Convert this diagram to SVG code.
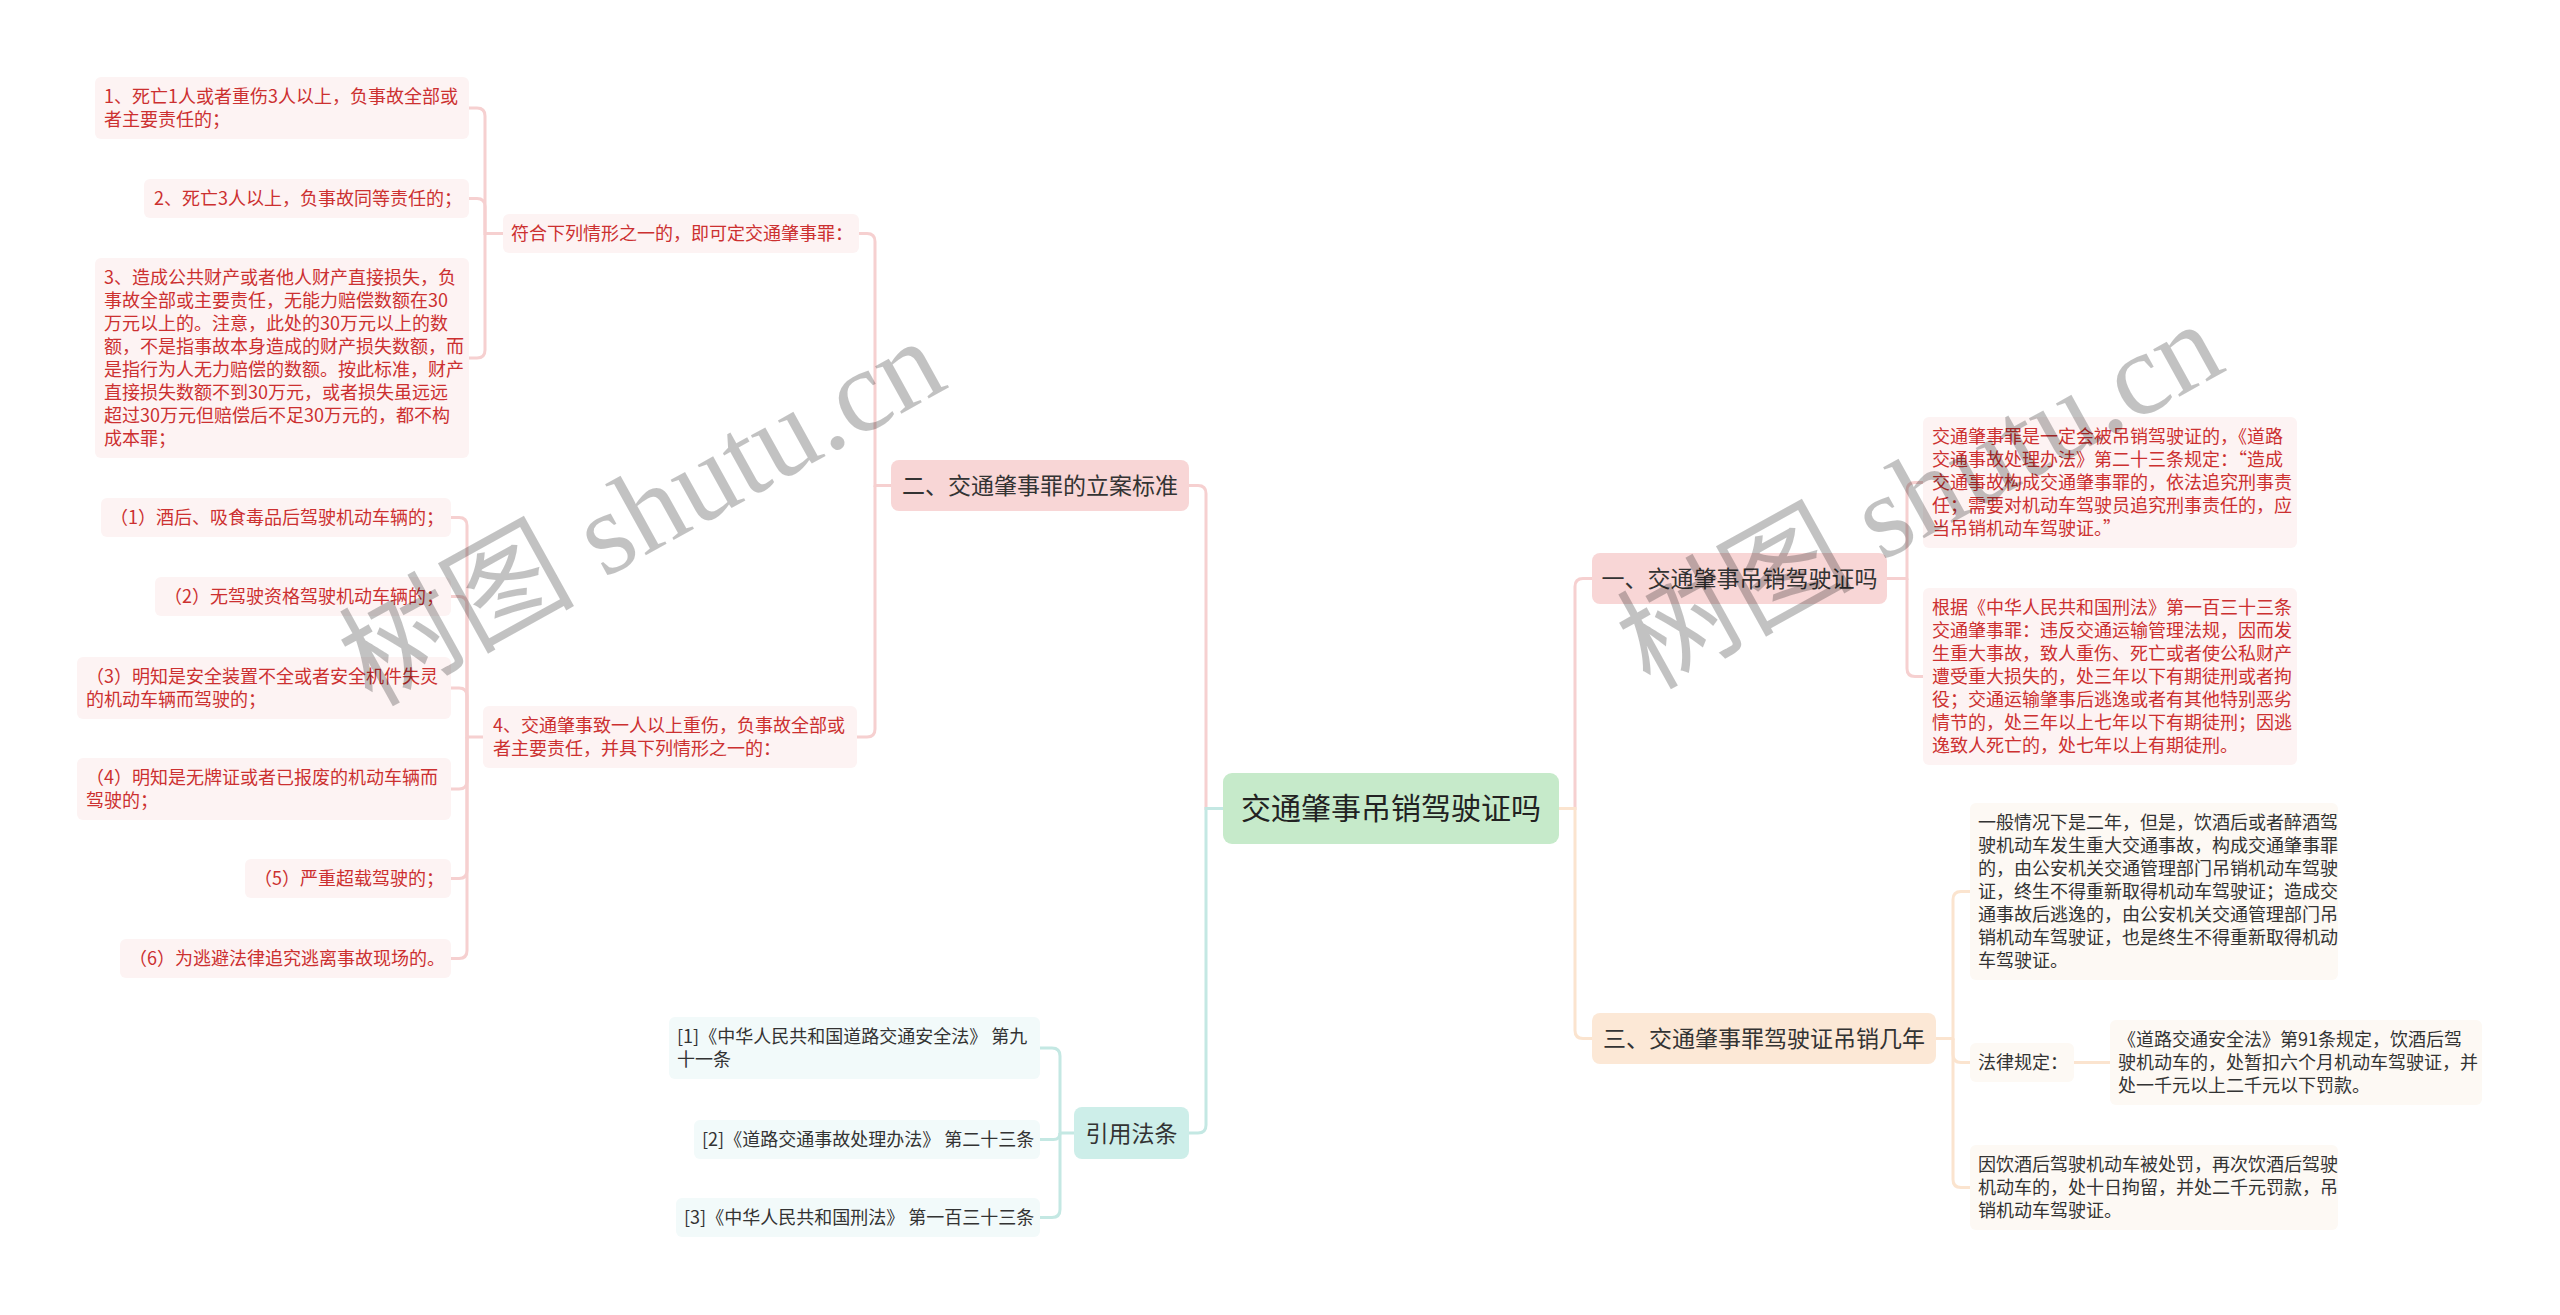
<svg xmlns="http://www.w3.org/2000/svg" width="2560" height="1315" viewBox="0 0 2560 1315">
<style>
text{font-family:"Noto Sans CJK SC","Liberation Sans",sans-serif}
.lt{font-size:18px;fill:#cc3030}
.dt{font-size:18px;fill:#333}
.l1{font-size:23px;fill:#333;text-anchor:middle}
.rt{font-size:30px;fill:#222;text-anchor:middle}
.bp{fill:#fdf3f3}
.bc{fill:#fdf9f4}
.bt{fill:#f2fafa}
.cp{fill:none;stroke:#f6d0d0;stroke-width:3}
.ct{fill:none;stroke:#c4e8e3;stroke-width:3}
.cc{fill:none;stroke:#fbe4cf;stroke-width:3}
.wm{font-family:"Liberation Serif","Noto Sans CJK SC",serif;font-size:118px;fill:#000;fill-opacity:0.24;text-anchor:middle}
</style>
<rect width="2560" height="1315" fill="#fff"/>
<g id="connectors">
<path class="cp" d="M1223,808.5 H1206 V493.5 Q1206,485.5 1198,485.5 H1189"/>
<path class="ct" d="M1223,808.5 H1206 V1125 Q1206,1133 1198,1133 H1189"/>
<path class="cp" d="M1559,808.5 H1575 V586.5 Q1575,578.5 1583,578.5 H1592"/>
<path class="cc" d="M1559,808.5 H1575 V1030.5 Q1575,1038.5 1583,1038.5 H1592"/>
<path class="cp" d="M891,485.5 H875 V241.5 Q875,233.5 867,233.5 H859"/>
<path class="cp" d="M875,485.5 V729 Q875,737 867,737 H857"/>
<path class="cp" d="M503,233.5 H485 V116 Q485,108 477,108 H469"/>
<path class="cp" d="M485,233.5 V206.5 Q485,198.5 477,198.5 H469"/>
<path class="cp" d="M485,233.5 V350 Q485,358 477,358 H469"/>
<path class="cp" d="M483,737 H467 V525.5 Q467,517.5 459,517.5 H451"/>
<path class="cp" d="M467,737 V604.5 Q467,596.5 459,596.5 H451"/>
<path class="cp" d="M467,737 V696 Q467,688 459,688 H451"/>
<path class="cp" d="M467,737 V781 Q467,789 459,789 H451"/>
<path class="cp" d="M467,737 V870.5 Q467,878.5 459,878.5 H451"/>
<path class="cp" d="M467,737 V950.5 Q467,958.5 459,958.5 H451"/>
<path class="ct" d="M1074,1133 H1060 V1056 Q1060,1048 1052,1048 H1040"/>
<path class="ct" d="M1060,1133 Q1060,1139.5 1053.5,1139.5 H1040"/>
<path class="ct" d="M1060,1133 V1209.5 Q1060,1217.5 1052,1217.5 H1040"/>
<path class="cp" d="M1887,578.5 H1907 V490.5 Q1907,482.5 1915,482.5 H1923"/>
<path class="cp" d="M1907,578.5 V668.5 Q1907,676.5 1915,676.5 H1923"/>
<path class="cc" d="M1936,1038.5 H1953 V899.5 Q1953,891.5 1961,891.5 H1970"/>
<path class="cc" d="M1953,1038.5 V1054.5 Q1953,1062.5 1961,1062.5 H1970"/>
<path class="cc" d="M1953,1038.5 V1179.5 Q1953,1187.5 1961,1187.5 H1970"/>
<path class="cc" d="M2074,1062.5 H2110"/>
</g>
<g id="root"><rect x="1223" y="773" width="336" height="71" rx="9" fill="#c6eaca"/><text class="rt" x="1391" y="819">交通肇事吊销驾驶证吗</text></g>
<g id="n2"><rect x="891" y="460" width="298" height="51" rx="8" fill="#f8d6d6"/><text class="l1" x="1040" y="494">二、交通肇事罪的立案标准</text></g>
<g id="n2a"><rect class="bp" x="503" y="214" width="356" height="39" rx="6"/><text class="lt" x="511" y="240">符合下列情形之一的，即可定交通肇事罪：</text></g>
<g id="n2a1"><rect class="bp" x="95" y="77" width="374" height="62" rx="6"/><text class="lt"><tspan x="104" y="103">1、死亡1人或者重伤3人以上，负事故全部或</tspan><tspan x="104" y="126">者主要责任的；</tspan></text></g>
<g id="n2a2"><rect class="bp" x="144" y="179" width="325" height="39" rx="6"/><text class="lt" x="154" y="205">2、死亡3人以上，负事故同等责任的；</text></g>
<g id="n2a3"><rect class="bp" x="95" y="258" width="374" height="200" rx="6"/><text class="lt"><tspan x="104" y="284">3、造成公共财产或者他人财产直接损失，负</tspan><tspan x="104" y="307">事故全部或主要责任，无能力赔偿数额在30</tspan><tspan x="104" y="330">万元以上的。注意，此处的30万元以上的数</tspan><tspan x="104" y="353">额，不是指事故本身造成的财产损失数额，而</tspan><tspan x="104" y="376">是指行为人无力赔偿的数额。按此标准，财产</tspan><tspan x="104" y="399">直接损失数额不到30万元，或者损失虽远远</tspan><tspan x="104" y="422">超过30万元但赔偿后不足30万元的，都不构</tspan><tspan x="104" y="445">成本罪；</tspan></text></g>
<g id="n2b"><rect class="bp" x="483" y="706" width="374" height="62" rx="6"/><text class="lt"><tspan x="493" y="732">4、交通肇事致一人以上重伤，负事故全部或</tspan><tspan x="493" y="755">者主要责任，并具下列情形之一的：</tspan></text></g>
<g id="n2b1"><rect class="bp" x="101" y="498" width="350" height="39" rx="6"/><text class="lt" x="110" y="524">（1）酒后、吸食毒品后驾驶机动车辆的；</text></g>
<g id="n2b2"><rect class="bp" x="155" y="577" width="296" height="39" rx="6"/><text class="lt" x="164" y="603">（2）无驾驶资格驾驶机动车辆的；</text></g>
<g id="n2b3"><rect class="bp" x="77" y="657" width="374" height="62" rx="6"/><text class="lt"><tspan x="86" y="683">（3）明知是安全装置不全或者安全机件失灵</tspan><tspan x="86" y="706">的机动车辆而驾驶的；</tspan></text></g>
<g id="n2b4"><rect class="bp" x="77" y="758" width="374" height="62" rx="6"/><text class="lt"><tspan x="86" y="784">（4）明知是无牌证或者已报废的机动车辆而</tspan><tspan x="86" y="807">驾驶的；</tspan></text></g>
<g id="n2b5"><rect class="bp" x="245" y="859" width="206" height="39" rx="6"/><text class="lt" x="254" y="885">（5）严重超载驾驶的；</text></g>
<g id="n2b6"><rect class="bp" x="120" y="939" width="331" height="39" rx="6"/><text class="lt" x="129" y="965">（6）为逃避法律追究逃离事故现场的。</text></g>
<g id="nref"><rect x="1074" y="1107" width="115" height="52" rx="8" fill="#cdeee9"/><text class="l1" x="1131.5" y="1141.5">引用法条</text></g>
<g id="nref1"><rect class="bt" x="669" y="1017" width="371" height="62" rx="6"/><text class="dt"><tspan x="677" y="1043">[1]《中华人民共和国道路交通安全法》 第九</tspan><tspan x="677" y="1066">十一条</tspan></text></g>
<g id="nref2"><rect class="bt" x="694" y="1120" width="346" height="39" rx="6"/><text class="dt" x="702" y="1146">[2]《道路交通事故处理办法》 第二十三条</text></g>
<g id="nref3"><rect class="bt" x="676" y="1198" width="364" height="39" rx="6"/><text class="dt" x="684" y="1224">[3]《中华人民共和国刑法》 第一百三十三条</text></g>
<g id="n1"><rect x="1592" y="553" width="295" height="51" rx="8" fill="#f8d6d6"/><text class="l1" x="1739.5" y="587">一、交通肇事吊销驾驶证吗</text></g>
<g id="n1a"><rect class="bp" x="1923" y="417" width="374" height="131" rx="6"/><text class="lt"><tspan x="1932" y="443">交通肇事罪是一定会被吊销驾驶证的，《道路</tspan><tspan x="1932" y="466">交通事故处理办法》第二十三条规定：“造成</tspan><tspan x="1932" y="489">交通事故构成交通肇事罪的，依法追究刑事责</tspan><tspan x="1932" y="512">任；需要对机动车驾驶员追究刑事责任的，应</tspan><tspan x="1932" y="535">当吊销机动车驾驶证。”</tspan></text></g>
<g id="n1b"><rect class="bp" x="1923" y="588" width="374" height="177" rx="6"/><text class="lt"><tspan x="1932" y="614">根据《中华人民共和国刑法》第一百三十三条</tspan><tspan x="1932" y="637">交通肇事罪：违反交通运输管理法规，因而发</tspan><tspan x="1932" y="660">生重大事故，致人重伤、死亡或者使公私财产</tspan><tspan x="1932" y="683">遭受重大损失的，处三年以下有期徒刑或者拘</tspan><tspan x="1932" y="706">役；交通运输肇事后逃逸或者有其他特别恶劣</tspan><tspan x="1932" y="729">情节的，处三年以上七年以下有期徒刑；因逃</tspan><tspan x="1932" y="752">逸致人死亡的，处七年以上有期徒刑。</tspan></text></g>
<g id="n3"><rect x="1592" y="1013" width="344" height="51" rx="8" fill="#fce8d6"/><text class="l1" x="1764" y="1047">三、交通肇事罪驾驶证吊销几年</text></g>
<g id="n3a"><rect class="bc" x="1970" y="803" width="368" height="177" rx="6"/><text class="dt"><tspan x="1978" y="829">一般情况下是二年，但是，饮酒后或者醉酒驾</tspan><tspan x="1978" y="852">驶机动车发生重大交通事故，构成交通肇事罪</tspan><tspan x="1978" y="875">的，由公安机关交通管理部门吊销机动车驾驶</tspan><tspan x="1978" y="898">证，终生不得重新取得机动车驾驶证；造成交</tspan><tspan x="1978" y="921">通事故后逃逸的，由公安机关交通管理部门吊</tspan><tspan x="1978" y="944">销机动车驾驶证，也是终生不得重新取得机动</tspan><tspan x="1978" y="967">车驾驶证。</tspan></text></g>
<g id="n3b"><rect class="bc" x="1970" y="1043" width="104" height="39" rx="6"/><text class="dt" x="1978" y="1069">法律规定：</text></g>
<g id="n3b1"><rect class="bc" x="2110" y="1020" width="372" height="85" rx="6"/><text class="dt"><tspan x="2118" y="1046">《道路交通安全法》第91条规定，饮酒后驾</tspan><tspan x="2118" y="1069">驶机动车的，处暂扣六个月机动车驾驶证，并</tspan><tspan x="2118" y="1092">处一千元以上二千元以下罚款。</tspan></text></g>
<g id="n3c"><rect class="bc" x="1970" y="1145" width="368" height="85" rx="6"/><text class="dt"><tspan x="1978" y="1171">因饮酒后驾驶机动车被处罚，再次饮酒后驾驶</tspan><tspan x="1978" y="1194">机动车的，处十日拘留，并处二千元罚款，吊</tspan><tspan x="1978" y="1217">销机动车驾驶证。</tspan></text></g>
<g id="watermarks">
<text class="wm" transform="translate(661,547) rotate(-29)" x="0" y="0">树图 shutu.cn</text>
<text class="wm" transform="translate(1939,530) rotate(-29)" x="0" y="0">树图 shutu.cn</text>
</g>
</svg>
